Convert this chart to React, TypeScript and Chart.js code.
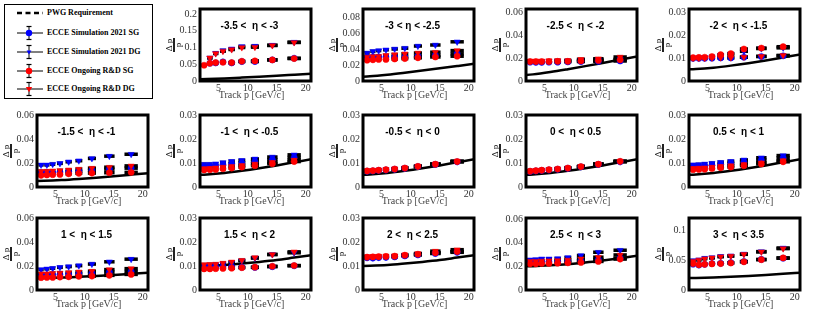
import React, { useEffect, useRef } from "react";
import { Chart, registerables } from "chart.js";
Chart.register(...registerables);

// ---------- data ----------
const P_BINS = [2.5, 3.5, 4.5, 5.75, 7.25, 9, 11.25, 14.25, 18];
const BIN_HALF = [0.45, 0.45, 0.45, 0.5, 0.55, 0.6, 0.7, 0.9, 1.15];
const X_TICKS = [5, 10, 15, 20];
const X_MIN = 1.8;
const X_MAX = 20.9;

// PWG requirement curves, read at these momenta
const REQ_P = [1, 3, 6, 9, 12, 15, 18, 21];
const REQ_A = [0.0051, 0.0058, 0.0078, 0.0103, 0.013, 0.0158, 0.0187, 0.0216];
const REQ_B = [0.00502, 0.00522, 0.00583, 0.00673, 0.0078, 0.009, 0.0103, 0.0116];
const REQ_C = [0.01001, 0.0101, 0.0104, 0.011, 0.0117, 0.0125, 0.0135, 0.0145];
const REQ_D = [0.02002, 0.0202, 0.0209, 0.0219, 0.0233, 0.025, 0.0269, 0.029];

const TICKS_020 = [0, 0.05, 0.1, 0.15, 0.2];
const TICKS_008 = [0, 0.02, 0.04, 0.06, 0.08];
const TICKS_006 = [0, 0.02, 0.04, 0.06];
const TICKS_003 = [0, 0.01, 0.02, 0.03];
const TICKS_010 = [0, 0.05, 0.1];

// -3.5 < eta < -3
const m35_simSG = [null, 0.053, 0.054, 0.057, 0.054, 0.058, 0.058, 0.063, 0.068];
const m35_simDG = [null, 0.069, 0.083, 0.091, 0.096, 0.103, 0.104, 0.107, 0.116];
const m35_rdSG = [0.047, 0.053, 0.055, 0.056, 0.055, 0.059, 0.06, 0.063, 0.067];
const m35_rdDG = [null, 0.069, 0.082, 0.089, 0.094, 0.1, 0.101, 0.106, 0.115];
// -3 < eta < -2.5
const m30_simSG = [0.03, 0.03, 0.03, 0.03, 0.03, 0.03, 0.031, 0.032, 0.034];
const m30_simDG = [0.035, 0.037, 0.038, 0.039, 0.04, 0.041, 0.0437, 0.045, 0.049];
const m30_rdSG = [0.026, 0.0265, 0.027, 0.027, 0.0275, 0.028, 0.029, 0.03, 0.031];
const m30_rdDG = [0.03, 0.0306, 0.031, 0.032, 0.033, 0.034, 0.035, 0.036, 0.038];
// -2.5 < eta < -2
const m25_simSG = [0.0165, 0.0163, 0.0163, 0.0165, 0.0165, 0.0167, 0.017, 0.0172, 0.0175];
const m25_simDG = [0.0172, 0.017, 0.017, 0.0172, 0.0175, 0.0177, 0.018, 0.0185, 0.019];
const m25_rdSG = [0.017, 0.017, 0.017, 0.017, 0.0172, 0.0172, 0.0175, 0.018, 0.0185];
const m25_rdDG = [0.0175, 0.0175, 0.0175, 0.0178, 0.018, 0.018, 0.019, 0.0195, 0.021];
// -2 < eta < -1.5
const m20_simSG = [0.0099, 0.0099, 0.0099, 0.01, 0.0101, 0.0101, 0.0104, 0.0107, 0.011];
const m20_simDG = [0.0101, 0.0102, 0.0103, 0.0106, 0.0112, 0.0117, 0.013, 0.0142, 0.0145];
const m20_rdSG = [0.0102, 0.0103, 0.0104, 0.0107, 0.0115, 0.012, 0.014, 0.0144, 0.015];
const m20_rdDG = [0.01, 0.01, 0.01, 0.0101, 0.0102, 0.0102, 0.0105, 0.0108, 0.0112];
// -1.5 < eta < -1
const m15_simSG = [0.0119, 0.0121, 0.0121, 0.0124, 0.0127, 0.013, 0.0138, 0.0149, 0.0157];
const m15_simDG = [0.0184, 0.0184, 0.019, 0.0197, 0.021, 0.0219, 0.0238, 0.0257, 0.0273];
const m15_rdSG = [0.0097, 0.01, 0.0103, 0.0105, 0.011, 0.0114, 0.0116, 0.0119, 0.0122];
const m15_rdDG = [0.013, 0.0132, 0.0135, 0.0138, 0.0143, 0.0149, 0.0157, 0.0165, 0.0176];
// -1 < eta < -0.5
const m10_simSG = [0.0086, 0.0087, 0.0089, 0.0093, 0.0097, 0.01, 0.0106, 0.0114, 0.0123];
const m10_simDG = [0.0095, 0.0095, 0.0097, 0.0102, 0.0107, 0.0111, 0.0117, 0.0125, 0.0134];
const m10_rdSG = [0.0071, 0.0072, 0.0073, 0.0076, 0.0079, 0.0083, 0.0089, 0.0097, 0.0106];
const m10_rdDG = [0.0077, 0.0078, 0.008, 0.0083, 0.0086, 0.009, 0.0096, 0.0103, 0.0112];
// -0.5 < eta < 0
const m05_simSG = [0.0066, 0.0067, 0.0069, 0.0071, 0.0074, 0.0078, 0.0085, 0.0094, 0.0105];
const m05_simDG = [0.0067, 0.0068, 0.007, 0.0072, 0.0075, 0.0079, 0.0086, 0.0095, 0.0106];
const m05_rdSG = [0.0067, 0.0068, 0.007, 0.0072, 0.0075, 0.0079, 0.0086, 0.0095, 0.0106];
const m05_rdDG = [0.0068, 0.0069, 0.0071, 0.0073, 0.0076, 0.008, 0.0087, 0.0096, 0.0108];
// 0 < eta < 0.5
const p00_simSG = [0.0065, 0.0067, 0.0069, 0.0071, 0.0074, 0.0078, 0.0084, 0.0094, 0.0105];
const p00_simDG = [0.0066, 0.0068, 0.007, 0.0072, 0.0075, 0.0079, 0.0085, 0.0095, 0.0106];
const p00_rdSG = [0.0066, 0.0068, 0.007, 0.0072, 0.0075, 0.0079, 0.0085, 0.0095, 0.0107];
const p00_rdDG = [0.0067, 0.0069, 0.0071, 0.0073, 0.0076, 0.008, 0.0086, 0.0096, 0.0108];
// 0.5 < eta < 1
const p05_simSG = [0.0085, 0.0086, 0.0088, 0.0091, 0.0095, 0.0099, 0.0104, 0.0112, 0.0121];
const p05_simDG = [0.0093, 0.0094, 0.0096, 0.0099, 0.0103, 0.0107, 0.0113, 0.0122, 0.0131];
const p05_rdSG = [0.0072, 0.0073, 0.0074, 0.0077, 0.008, 0.0083, 0.0089, 0.0096, 0.0105];
const p05_rdDG = [0.0078, 0.0079, 0.008, 0.0083, 0.0086, 0.0089, 0.0094, 0.0101, 0.011];
// 1 < eta < 1.5
const p10_simSG = [0.0122, 0.0124, 0.0126, 0.0128, 0.0132, 0.0135, 0.014, 0.0149, 0.0154];
const p10_simDG = [0.017, 0.0176, 0.0181, 0.0189, 0.0195, 0.0203, 0.0216, 0.0235, 0.0257];
const p10_rdSG = [0.0103, 0.0105, 0.0105, 0.0108, 0.011, 0.0114, 0.0116, 0.0122, 0.013];
const p10_rdDG = [0.0135, 0.0136, 0.014, 0.0142, 0.0146, 0.0151, 0.0157, 0.017, 0.0178];
// 1.5 < eta < 2
const p15_simSG = [0.0095, 0.0095, 0.0096, 0.0097, 0.0098, 0.0095, 0.0094, 0.0097, 0.0101];
const p15_simDG = [0.0103, 0.0104, 0.0105, 0.0108, 0.0113, 0.0122, 0.0133, 0.0148, 0.0155];
const p15_rdSG = [0.0088, 0.0088, 0.0089, 0.009, 0.0091, 0.0093, 0.0095, 0.0099, 0.0102];
const p15_rdDG = [0.0106, 0.0107, 0.0108, 0.0112, 0.0117, 0.0124, 0.0135, 0.0148, 0.0159];
// 2 < eta < 2.5
const p20_simSG = [0.0134, 0.0133, 0.0135, 0.0136, 0.0138, 0.0142, 0.0146, 0.0152, 0.0157];
const p20_simDG = [0.0136, 0.0135, 0.0137, 0.0138, 0.014, 0.0144, 0.0148, 0.0155, 0.016];
const p20_rdSG = [0.0137, 0.0138, 0.0139, 0.014, 0.0141, 0.0145, 0.0149, 0.0155, 0.016];
const p20_rdDG = [0.0139, 0.014, 0.0141, 0.0142, 0.0143, 0.0147, 0.0152, 0.0162, 0.0168];
// 2.5 < eta < 3
const p25_simSG = [0.0238, 0.0238, 0.024, 0.024, 0.0242, 0.0244, 0.0248, 0.0258, 0.027];
const p25_simDG = [0.0256, 0.0258, 0.0264, 0.0264, 0.0266, 0.0275, 0.0292, 0.032, 0.0337];
const p25_rdSG = [0.0222, 0.0222, 0.0225, 0.0225, 0.0227, 0.023, 0.0233, 0.0242, 0.0262];
const p25_rdDG = [0.0244, 0.0244, 0.0246, 0.0248, 0.025, 0.0254, 0.0264, 0.0278, 0.0297];
// 3 < eta < 3.5
const p30_simSG = [0.043, 0.0415, 0.0428, 0.044, 0.0445, 0.0455, 0.0475, 0.051, 0.053];
const p30_simDG = [0.049, 0.0505, 0.053, 0.054, 0.056, 0.057, 0.06, 0.064, 0.07];
const p30_rdSG = [0.044, 0.042, 0.0428, 0.0435, 0.044, 0.045, 0.047, 0.0505, 0.0535];
const p30_rdDG = [0.048, 0.05, 0.052, 0.0535, 0.0555, 0.0565, 0.0595, 0.0635, 0.069];

const LEGEND_LABELS = [
  "PWG Requirement",
  "ECCE Simulation 2021 SG",
  "ECCE Simulation 2021 DG",
  "ECCE Ongoing R&D SG",
  "ECCE Ongoing R&D DG",
];

type Vals = (number | null)[];
type Panel = {
  title: string; yMax: number; yTicks: number[]; req: number[];
  simSG: Vals; simDG: Vals; rdSG: Vals; rdDG: Vals;
};

const PANELS: Panel[] = [
  { title: "-3.5 <  η < -3", yMax: 0.215, yTicks: TICKS_020, req: REQ_A, simSG: m35_simSG, simDG: m35_simDG, rdSG: m35_rdSG, rdDG: m35_rdDG },
  { title: "-3 < η < -2.5", yMax: 0.09, yTicks: TICKS_008, req: REQ_A, simSG: m30_simSG, simDG: m30_simDG, rdSG: m30_rdSG, rdDG: m30_rdDG },
  { title: "-2.5 <  η < -2", yMax: 0.063, yTicks: TICKS_006, req: REQ_A, simSG: m25_simSG, simDG: m25_simDG, rdSG: m25_rdSG, rdDG: m25_rdDG },
  { title: "-2 <  η < -1.5", yMax: 0.0315, yTicks: TICKS_003, req: REQ_B, simSG: m20_simSG, simDG: m20_simDG, rdSG: m20_rdSG, rdDG: m20_rdDG },
  { title: "-1.5 <  η < -1", yMax: 0.06, yTicks: TICKS_006, req: REQ_B, simSG: m15_simSG, simDG: m15_simDG, rdSG: m15_rdSG, rdDG: m15_rdDG },
  { title: "-1 <  η < -0.5", yMax: 0.03, yTicks: TICKS_003, req: REQ_B, simSG: m10_simSG, simDG: m10_simDG, rdSG: m10_rdSG, rdDG: m10_rdDG },
  { title: "-0.5 <  η < 0", yMax: 0.03, yTicks: TICKS_003, req: REQ_B, simSG: m05_simSG, simDG: m05_simDG, rdSG: m05_rdSG, rdDG: m05_rdDG },
  { title: "0 <  η < 0.5", yMax: 0.03, yTicks: TICKS_003, req: REQ_B, simSG: p00_simSG, simDG: p00_simDG, rdSG: p00_rdSG, rdDG: p00_rdDG },
  { title: "0.5 <  η < 1", yMax: 0.03, yTicks: TICKS_003, req: REQ_B, simSG: p05_simSG, simDG: p05_simDG, rdSG: p05_rdSG, rdDG: p05_rdDG },
  { title: "1 <  η < 1.5", yMax: 0.06, yTicks: TICKS_006, req: REQ_C, simSG: p10_simSG, simDG: p10_simDG, rdSG: p10_rdSG, rdDG: p10_rdDG },
  { title: "1.5 <  η < 2", yMax: 0.03, yTicks: TICKS_003, req: REQ_C, simSG: p15_simSG, simDG: p15_simDG, rdSG: p15_rdSG, rdDG: p15_rdDG },
  { title: "2 <  η < 2.5", yMax: 0.03, yTicks: TICKS_003, req: REQ_C, simSG: p20_simSG, simDG: p20_simDG, rdSG: p20_rdSG, rdDG: p20_rdDG },
  { title: "2.5 <  η < 3", yMax: 0.061, yTicks: TICKS_006, req: REQ_D, simSG: p25_simSG, simDG: p25_simDG, rdSG: p25_rdSG, rdDG: p25_rdDG },
  { title: "3 <  η < 3.5", yMax: 0.12, yTicks: TICKS_010, req: REQ_D, simSG: p30_simSG, simDG: p30_simDG, rdSG: p30_rdSG, rdDG: p30_rdDG },
];

// ---------- layout ----------
const CELL_W = 163;
const CELL_H = 104;
const ROW_TOP = [0, 106, 209];
const BLUE = "#0000ff";
const RED = "#ff0000";
const SERIF = "'Liberation Serif', 'Times New Roman', serif";
const SANS = "'Liberation Sans', Arial, sans-serif";

const decoPlugin = {
  id: "panelDeco",
  afterDraw(chart: any, _args: any, opts: any) {
    const { ctx, chartArea: a } = chart;
    ctx.save();
    ctx.lineWidth = 3;
    ctx.strokeStyle = "#000";
    ctx.strokeRect(a.left, a.top, a.right - a.left, a.bottom - a.top);
    const cx = (a.left + a.right) / 2;
    ctx.textAlign = "center";
    ctx.textBaseline = "middle";
    ctx.fillStyle = "#000";
    ctx.font = `bold 10px ${SANS}`;
    ctx.fillText(opts.title, cx - 6, a.top + 17);
    ctx.font = `10px ${SERIF}`;
    ctx.fillStyle = "#444";
    ctx.fillText(opts.xTitle, cx - 4, a.bottom + 14);
    // y title as rotated fraction  Δp / p
    const fy = (a.top + a.bottom) / 2;
    const fx = a.left - 26;
    ctx.translate(fx, fy);
    ctx.rotate(-Math.PI / 2);
    ctx.fillStyle = "#222";
    ctx.font = `9px ${SERIF}`;
    ctx.fillText("Δ p", 0, -4.5);
    ctx.fillText("p", 0, 5);
    ctx.fillRect(-7, -1, 14, 2);
    ctx.restore();
  },
};

const fmt = (v: number) => String(+Number(v).toFixed(4));

function points(vals: Vals) {
  const out: any[] = [];
  P_BINS.forEach((x, i) => {
    const y = vals[i];
    if (y != null) out.push({ x, y, hw: BIN_HALF[i] });
  });
  return out;
}

function barDataset(vals: Vals) {
  return {
    data: points(vals),
    pointStyle: "line",
    pointBorderColor: "#000",
    pointBackgroundColor: "#000",
    pointBorderWidth: 3.5,
    pointRadius: (c: any) => {
      const s = c.chart.scales.x;
      const d = c.raw;
      if (!s || !d) return 3;
      return Math.abs(s.getPixelForValue(d.x + d.hw) - s.getPixelForValue(d.x));
    },
    order: 10,
  };
}

function markerDataset(vals: Vals, color: string, tri: boolean, order: number) {
  return {
    data: points(vals),
    pointStyle: tri ? "triangle" : "circle",
    pointRotation: tri ? 180 : 0,
    pointRadius: tri ? 3.6 : 3.1,
    pointBackgroundColor: color,
    pointBorderColor: color,
    pointBorderWidth: 0.5,
    order,
  };
}

function PanelChart({ panel, idx }: { panel: Panel; idx: number }) {
  const ref = useRef<HTMLCanvasElement>(null);
  const cell = idx + 1;
  const col = cell % 5;
  const row = Math.floor(cell / 5);
  useEffect(() => {
    const chart = new Chart(ref.current as HTMLCanvasElement, {
      type: "scatter",
      data: {
        datasets: [
          markerDataset(panel.rdSG, RED, false, 0),
          markerDataset(panel.rdDG, RED, true, 1),
          markerDataset(panel.simSG, BLUE, false, 2),
          markerDataset(panel.simDG, BLUE, true, 3),
          barDataset(panel.rdSG),
          barDataset(panel.rdDG),
          barDataset(panel.simSG),
          barDataset(panel.simDG),
          {
            data: REQ_P.map((x, i) => ({ x, y: panel.req[i] })),
            showLine: true,
            borderColor: "#000",
            borderWidth: 2.5,
            pointRadius: 0,
            cubicInterpolationMode: "monotone",
            clip: 0,
            order: 20,
          },
        ] as any,
      },
      options: {
        responsive: false,
        animation: false,
        devicePixelRatio: 1,
        events: [],
        layout: { padding: { top: 6, right: 15, left: 0, bottom: 0 } },
        plugins: {
          legend: { display: false },
          tooltip: { enabled: false },
          panelDeco: { title: panel.title, xTitle: "Track p [GeV/c]" },
        } as any,
        scales: {
          x: {
            type: "linear",
            min: X_MIN,
            max: X_MAX,
            grid: { display: false, drawTicks: false, tickLength: 0 },
            border: { display: false },
            ticks: { padding: 1, autoSkip: false, maxRotation: 0, color: "#333", font: { family: SERIF, size: 10 } },
            afterBuildTicks: (s: any) => { s.ticks = X_TICKS.map((v) => ({ value: v })); },
            afterFit: (s: any) => { s.height = 23; },
          },
          y: {
            type: "linear",
            min: 0,
            max: panel.yMax,
            grid: { display: false, drawTicks: false, tickLength: 0 },
            border: { display: false },
            ticks: { padding: 3, autoSkip: false, color: "#333", font: { family: SERIF, size: 10 }, callback: (v: any) => fmt(v) },
            afterBuildTicks: (s: any) => { s.ticks = panel.yTicks.map((v) => ({ value: v })); },
            afterFit: (s: any) => { s.width = 37; },
          },
        } as any,
      },
      plugins: [decoPlugin],
    } as any);
    return () => chart.destroy();
  }, [panel]);
  return (
    <canvas
      ref={ref}
      width={CELL_W}
      height={CELL_H}
      style={{ position: "absolute", left: col * CELL_W, top: ROW_TOP[row], width: CELL_W, height: CELL_H }}
    />
  );
}

function LegendSymbol({ i }: { i: number }) {
  if (i === 0) {
    return (
      <svg width="28" height="16">
        <line x1="1" y1="8" x2="27" y2="8" stroke="#000" strokeWidth="2.5" strokeDasharray="5 3.5" />
      </svg>
    );
  }
  const color = i <= 2 ? BLUE : RED;
  const tri = i === 2 || i === 4;
  const r = i === 2 ? 2.4 : 3.2;
  return (
    <svg width="28" height="16">
      <line x1="1" y1="8" x2="27" y2="8" stroke="#000" strokeWidth="1" />
      <line x1="13" y1="1.5" x2="13" y2="14.5" stroke="#000" strokeWidth="1" />
      <line x1="10.5" y1="1.5" x2="15.5" y2="1.5" stroke="#000" strokeWidth="1.2" />
      <line x1="10.5" y1="14.5" x2="15.5" y2="14.5" stroke="#000" strokeWidth="1.2" />
      {tri ? (
        <polygon points={`${13 - r},${8 - r * 0.6} ${13 + r},${8 - r * 0.6} 13,${8 + r}`} fill={color} />
      ) : (
        <circle cx="13" cy="8" r={r} fill={color} />
      )}
    </svg>
  );
}

function Legend() {
  const rowsY = [13, 33, 52, 71, 89];
  return (
    <>
      <div
        style={{
          position: "absolute", left: 4, top: 4, width: 149, height: 95,
          border: "1.5px solid #000", boxSizing: "border-box",
        }}
      />
      {LEGEND_LABELS.map((label, i) => (
        <React.Fragment key={label}>
          <div style={{ position: "absolute", left: 16, top: rowsY[i] - 8, width: 28, height: 16 }}>
            <LegendSymbol i={i} />
          </div>
          <div
            style={{
              position: "absolute", left: 47, top: rowsY[i] - 6, height: 12, lineHeight: "12px",
              fontFamily: SERIF, fontWeight: "bold", fontSize: 8, color: "#000", whiteSpace: "nowrap",
            }}
          >
            {label}
          </div>
        </React.Fragment>
      ))}
    </>
  );
}

export default function App() {
  return (
    <div style={{ position: "fixed", left: 0, top: 0, width: 814, height: 312, overflow: "hidden", background: "#fff" }}>
      <Legend />
      {PANELS.map((p, i) => (
        <PanelChart key={p.title} panel={p} idx={i} />
      ))}
    </div>
  );
}
